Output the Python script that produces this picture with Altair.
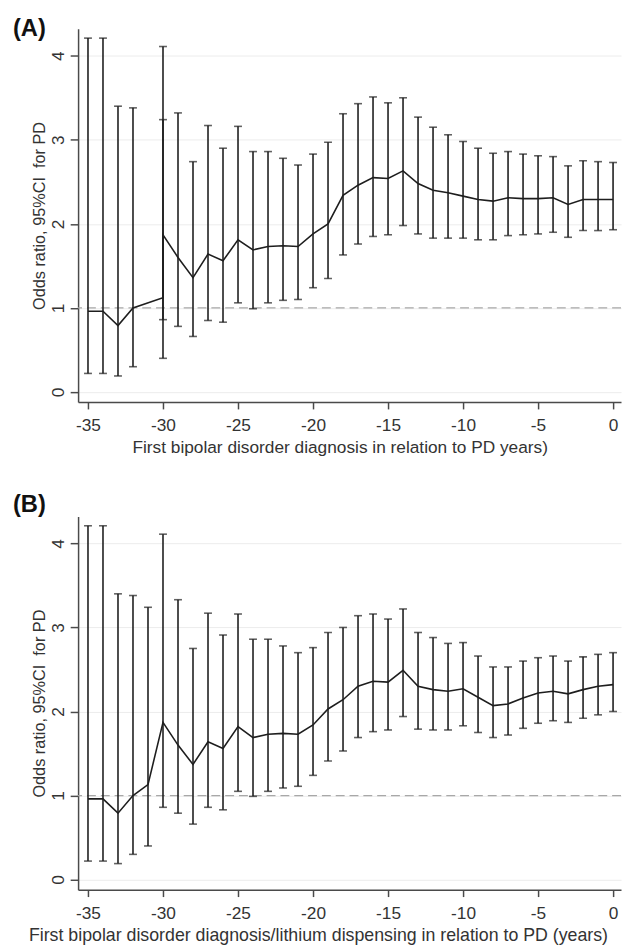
import altair as alt
import pandas as pd

# ---------------- data ----------------
# Panel A (the -31 estimate is drawn at x = -30 in the original figure)
a_year = [-35, -34, -33, -32, -30, -30, -29, -28, -27, -26, -25, -24, -23, -22, -21,
          -20, -19, -18, -17, -16, -15, -14, -13, -12, -11, -10, -9, -8, -7, -6,
          -5, -4, -3, -2, -1, 0]
a_or = [0.96, 0.96, 0.79, 1.00, 1.12, 1.87, 1.60, 1.36, 1.64, 1.56, 1.81, 1.69, 1.73, 1.74, 1.73,
        1.88, 2.00, 2.34, 2.46, 2.55, 2.54, 2.63, 2.48, 2.40, 2.37, 2.33, 2.29, 2.27, 2.31, 2.30,
        2.30, 2.31, 2.23, 2.29, 2.29, 2.29]
a_lo = [0.22, 0.22, 0.19, 0.30, 0.40, 0.86, 0.78, 0.66, 0.85, 0.83, 1.06, 0.99, 1.06, 1.09, 1.10,
        1.24, 1.35, 1.63, 1.76, 1.85, 1.87, 1.98, 1.88, 1.83, 1.83, 1.83, 1.81, 1.81, 1.86, 1.87,
        1.88, 1.90, 1.84, 1.92, 1.92, 1.93]
a_hi = [4.21, 4.21, 3.40, 3.38, 3.24, 4.11, 3.32, 2.74, 3.17, 2.90, 3.16, 2.86, 2.86, 2.78, 2.70,
        2.83, 2.97, 3.31, 3.43, 3.51, 3.44, 3.50, 3.27, 3.15, 3.06, 2.98, 2.90, 2.84, 2.86, 2.83,
        2.81, 2.80, 2.69, 2.75, 2.74, 2.73]

# Panel B
b_year = [-35, -34, -33, -32, -31, -30, -29, -28, -27, -26, -25, -24, -23, -22, -21,
          -20, -19, -18, -17, -16, -15, -14, -13, -12, -11, -10, -9, -8, -7, -6,
          -5, -4, -3, -2, -1, 0]
b_or = [0.96, 0.96, 0.79, 1.00, 1.13, 1.87, 1.60, 1.37, 1.64, 1.56, 1.82, 1.69, 1.73, 1.74, 1.73,
        1.84, 2.03, 2.14, 2.30, 2.36, 2.35, 2.49, 2.30, 2.26, 2.24, 2.27, 2.17, 2.07, 2.09, 2.16,
        2.22, 2.24, 2.21, 2.26, 2.30, 2.32]
b_lo = [0.22, 0.22, 0.19, 0.30, 0.40, 0.86, 0.79, 0.66, 0.86, 0.83, 1.05, 0.99, 1.05, 1.09, 1.11,
        1.24, 1.41, 1.53, 1.69, 1.76, 1.78, 1.94, 1.79, 1.78, 1.78, 1.83, 1.75, 1.69, 1.72, 1.80,
        1.86, 1.89, 1.87, 1.92, 1.96, 2.00]
b_hi = [4.21, 4.21, 3.40, 3.38, 3.24, 4.11, 3.33, 2.75, 3.17, 2.91, 3.16, 2.86, 2.86, 2.78, 2.70,
        2.76, 2.94, 3.00, 3.14, 3.16, 3.10, 3.22, 2.94, 2.88, 2.81, 2.82, 2.66, 2.53, 2.53, 2.60,
        2.64, 2.66, 2.60, 2.65, 2.68, 2.70]

x_ticks = [-35, -30, -25, -20, -15, -10, -5, 0]
y_ticks = [0, 1, 2, 3, 4]
ref_value = [1]

y_title = "Odds ratio, 95%CI\u00a0 for PD"
a_xtitle = "First bipolar disorder diagnosis in relation to PD years)"
b_xtitle = "First bipolar disorder diagnosis/lithium dispensing in relation to PD (years)"

FONT = "Liberation Sans"
INK = "#1e1e1e"
AXC = "#4a4a4a"
TXT = "#333333"

X_DOM = [-35.66, 0.53]
Y_DOM = [-0.12, 4.32]
W, H = 550, 378


def panel(year, orv, lo, hi, label, xtitle, xtitle_x, xtitle_fs, label_dy):
    df = pd.DataFrame({"i": list(range(len(year))), "year": year,
                       "or": orv, "lo": lo, "hi": hi})
    xs = alt.Scale(domain=X_DOM, nice=False, zero=False)
    ys = alt.Scale(domain=Y_DOM, nice=False, zero=False)
    x_axis = alt.Axis(values=x_ticks, title=xtitle, grid=False, tickSize=7,
                      labelFontSize=17.5, titleFontSize=xtitle_fs, titleFontWeight="normal",
                      labelFont=FONT, titleFont=FONT, labelColor=TXT, titleColor=TXT,
                      domainColor=AXC, tickColor=AXC, domainWidth=1.5, tickWidth=1.5,
                      labelPadding=8, titlePadding=5, titleX=xtitle_x,
                      titleAlign="center", labelExpr="'' + datum.value")
    y_axis = alt.Axis(values=y_ticks, title=y_title, grid=True, gridColor="#ececec",
                      gridWidth=1, tickSize=8, labelAngle=270, labelAlign="center",
                      labelBaseline="bottom", labelFontSize=17.5, titleFontSize=16.5,
                      titleFontWeight="normal", labelFont=FONT, titleFont=FONT,
                      labelColor=TXT, titleColor=TXT, domainColor=AXC, tickColor=AXC,
                      domainWidth=1.5, tickWidth=1.5, labelPadding=3, titlePadding=2,
                      labelExpr="'' + datum.value")
    X = alt.X("year:Q", scale=xs, axis=x_axis)

    def Y(field):
        return alt.Y(field, scale=ys, axis=y_axis)

    base = alt.Chart(df)
    ref = alt.Chart(pd.DataFrame({"v": ref_value})).mark_rule(
        color="#a8a8a8", strokeWidth=1.3, strokeDash=[9, 5]
    ).encode(y=Y("v:Q"))
    bars = base.mark_rule(color=INK, strokeWidth=1.6).encode(
        x=X, y=Y("lo:Q"), y2="hi:Q")
    cap_hi = base.mark_tick(orient="horizontal", color=INK, size=8, thickness=1.6).encode(
        x=X, y=Y("hi:Q"))
    cap_lo = base.mark_tick(orient="horizontal", color=INK, size=8, thickness=1.6).encode(
        x=X, y=Y("lo:Q"))
    line = base.mark_line(color=INK, strokeWidth=1.6).encode(
        x=X, y=Y("or:Q"), order="i:Q")
    return alt.layer(ref, bars, cap_hi, cap_lo, line).properties(
        width=W, height=H,
        title=alt.TitleParams(text=label, anchor="start", frame="group", dx=-66,
                              offset=0, dy=label_dy, baseline="alphabetic",
                              fontSize=24, fontWeight="bold", font=FONT, color="#111111"))


pa = panel(a_year, a_or, a_lo, a_hi, "(A)", a_xtitle, 265, 17.5, 31)
pb = panel(b_year, b_or, b_lo, b_hi, "(B)", b_xtitle, 243, 18, 19)

chart = alt.vconcat(pa, pb, spacing=37).properties(
    padding={"left": 5, "top": 3, "right": 0, "bottom": 0},
    autosize=alt.AutoSizeParams(type="pad"),
    background="white",
).configure_view(stroke=None)

chart.save("out.html", embed_options={"renderer": "svg", "actions": False})
